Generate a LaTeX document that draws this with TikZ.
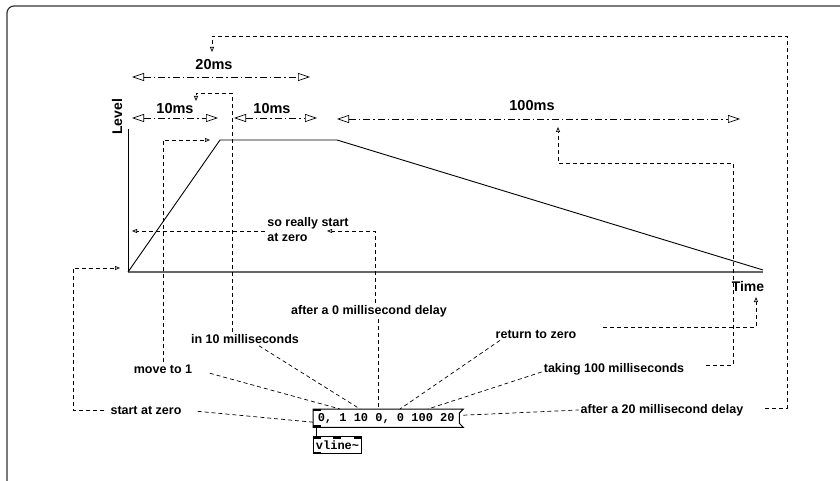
\documentclass[tikz,border=0pt]{standalone}
\usepackage{fontspec}
\setmainfont{Liberation Sans}
\setmonofont{Liberation Mono}
\usetikzlibrary{arrows.meta,positioning}

\begin{document}
\begin{tikzpicture}[
    x=1pt, y=-1pt,
    every node/.style={font=\bfseries\fontsize{12.5}{15}\selectfont, inner sep=2pt},
    dimtxt/.style={font=\bfseries\fontsize{14.5}{17}\selectfont},
    axtxt/.style={font=\bfseries\fontsize{14}{17}\selectfont},
    msgbox/.style={minimum width=146pt, minimum height=18pt, inner sep=1pt, font=\ttfamily\bfseries\fontsize{12}{14}\selectfont},
    objbox/.style={draw, line width=1pt, minimum width=48pt, minimum height=17pt, inner sep=1pt, font=\ttfamily\bfseries\fontsize{12}{14}\selectfont},
    spanline/.style={{Triangle[open,length=12pt,width=8pt]}-{Triangle[open,length=12pt,width=8pt]}, dash pattern=on 7pt off 3pt on 1.5pt off 3pt, line width=0.7pt},
    guide/.style={dash pattern=on 4pt off 3pt, line width=0.7pt},
    pointer/.style={guide, -{Triangle[open,length=5pt,width=4pt]}},
    curve/.style={line width=0.9pt}
]
\useasboundingbox (0,0) rectangle (840,481);
\draw[black!80, line width=1.2pt, rounded corners=7pt] (7,481) -- (7,6) -- (840,6);

% graph
\coordinate (origin) at (128,272);
\coordinate (yTop) at (128,129);
\coordinate (xEnd) at (763,272);
\coordinate (peakL) at (220,140);
\coordinate (peakR) at (337,140);
\coordinate (endPt) at (763,270);
\draw[line width=0.8pt] (yTop) -- (origin);
\draw[black!60, line width=1.6pt] (origin) -- (xEnd);
\draw[curve] (origin) -- (peakL) -- (peakR) -- (endPt);
\node[axtxt] (level) at (117,117) {\rotatebox{90}{Level}};
\node[axtxt] (time) at (748,286) {Time};

% spans
\coordinate (a20) at (132,77);  \coordinate (b20) at (310,77);
\coordinate (a10) at (132,118); \coordinate (b10) at (218,118);
\coordinate (c10) at (234,118); \coordinate (d10) at (317,118);
\coordinate (a100) at (337,119); \coordinate (b100) at (740,119);
\draw[spanline] (a20) -- (b20);
\draw[spanline] (a10) -- (b10);
\draw[spanline] (c10) -- (d10);
\draw[spanline] (a100) -- (b100);
\node[dimtxt] (t20) at (214,65) {20ms};
\node[dimtxt] (t10a) at (175,109) {10ms};
\node[dimtxt] (t10b) at (272,109) {10ms};
\node[dimtxt] (t100) at (532,106) {100ms};

% message and object
\node[msgbox, anchor=north west] (msg) at (313,409) {0, 1 10 0, 0 100 20};
\draw[line width=1pt] (msg.north west) -- ([xshift=4pt]msg.north east) -- ([yshift=-4pt]msg.north east)
    -- ([yshift=4pt]msg.south east) -- ([xshift=4pt]msg.south east) -- (msg.south west) -- cycle;
\node[objbox, below=9pt of msg.south west, anchor=north west] (vline) {vline\textasciitilde};
\fill (msg.north west) rectangle ++(8,2);
\fill (msg.south west) rectangle ++(8,-2);
\fill (vline.north west) rectangle ++(8,2.5);
\fill ([xshift=20pt]vline.north west) rectangle ++(8,2.5);
\fill (vline.north east) rectangle ++(-8,2.5);
\fill (vline.south west) rectangle ++(8,-2.5);
\draw[line width=0.8pt] ([xshift=3pt]msg.south west) -- ([xshift=3pt]vline.north west);

% labels
\node (zero) at (146,410) {start at zero};
\node (move) at (163,369) {move to 1};
\node (inten) at (245,339) {in 10 milliseconds};
\node (zerodel) at (369,311) {after a 0 millisecond delay};
\node[align=left] (really) at (308,230) {so really start\\at zero};
\node (ret) at (536,334) {return to zero};
\node (take) at (614,369) {taking 100 milliseconds};
\node (twenty) at (662,410) {after a 20 millisecond delay};

% pointer corners and tips
\coordinate (loopL) at (73,268);
\coordinate (orgTip) at (120,268);
\coordinate (peakTip) at (210,140);
\coordinate (tenTop) at (232,93);
\coordinate (tenTip) at (196,101);
\coordinate (reallyTip) at (327,231);
\coordinate (axisTip) at (132,231);
\coordinate (timeTip) at (756,297);
\coordinate (takeTop) at (733,163);
\coordinate (hundTip) at (558,127);
\coordinate (loopR) at (787,36);
\coordinate (twentyTip) at (212,52);

% from the message
\draw[guide, shorten <=14pt] (zero.east) -- ([yshift=-4pt]msg.west);
\draw[guide, shorten <=16pt] (move.east) -- ([xshift=27pt]msg.north west);
\draw[guide] ([xshift=14pt]inten.south) -- ([xshift=47pt]msg.north west);
\draw[guide] ([xshift=9pt]zerodel.south) -- ([xshift=65pt]msg.north west);
\draw[guide] ([xshift=-36pt]ret.south) -- ([xshift=87pt]msg.north west);
\draw[guide] ([yshift=-3pt]take.west) -- ([xshift=115pt]msg.north west);
\draw[guide] ([xshift=4pt,yshift=3pt]msg.east) -- (twenty.west);

% to the graph
\draw[pointer, shorten <=4pt] (zero.west) -| (loopL) -- (orgTip);
\draw[pointer] (move.north) |- (peakTip);
\draw[pointer] ([xshift=-13pt]inten.north) |- (tenTop) -| (tenTip);
\draw[pointer] ([xshift=6pt]zerodel.north) |- (reallyTip);
\draw[pointer] (really.west |- axisTip) -- (axisTip);
\draw[pointer] ([shift={(25pt,7pt)}]ret.east) -| (timeTip);
\draw[pointer] ([shift={(20pt,4pt)}]take.east) -| (takeTop) -| (hundTip);
\draw[pointer] ([xshift=20pt,yshift=2pt]twenty.east) -| (loopR) -| (twentyTip);
\end{tikzpicture}
\end{document}
